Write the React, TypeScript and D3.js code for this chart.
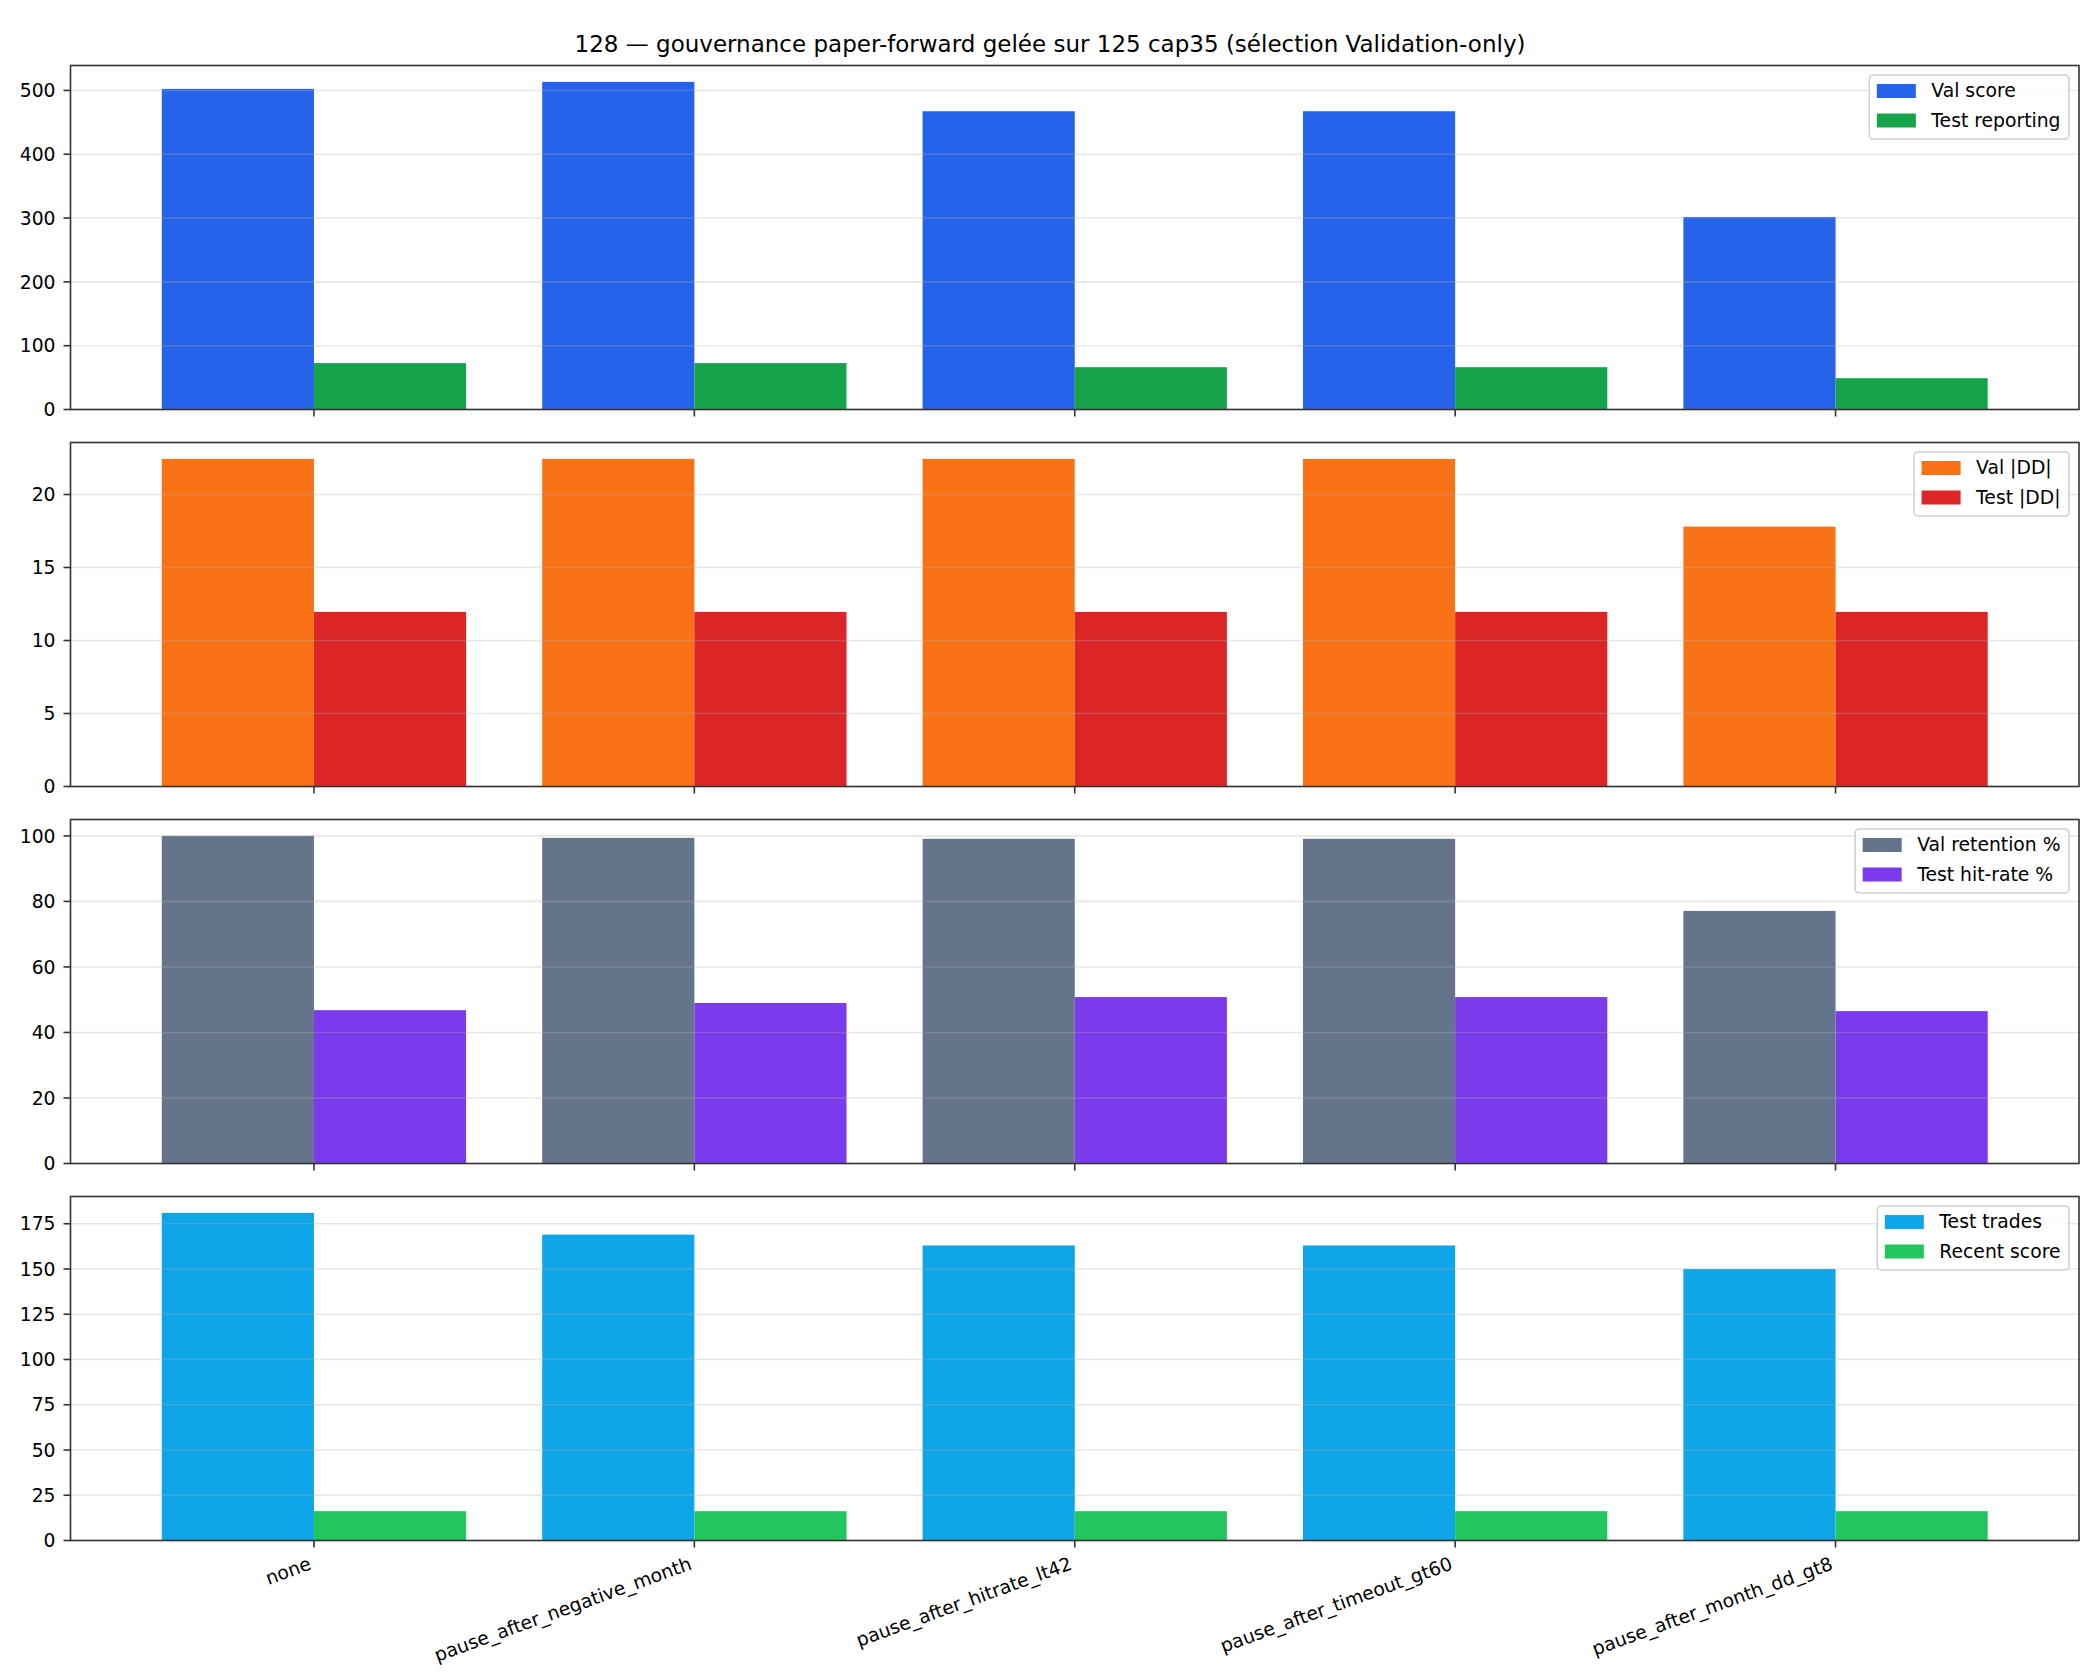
import * as d3 from 'd3';
import { useEffect, useRef } from 'react';

const title = '128 — gouvernance paper-forward gelée sur 125 cap35 (sélection Validation-only)';

const categories = [
  'none',
  'pause_after_negative_month',
  'pause_after_hitrate_lt42',
  'pause_after_timeout_gt60',
  'pause_after_month_dd_gt8',
];

const valScore = [502.4, 513.4, 467.4, 467.4, 301.6];
const testReporting = [72.7, 72.7, 66.3, 66.3, 49.1];
const valDD = [22.44, 22.44, 22.44, 22.44, 17.8];
const testDD = [11.96, 11.96, 11.96, 11.96, 11.96];
const valRetention = [100, 99.4, 99.1, 99.1, 77.1];
const testHitRate = [46.8, 49.0, 50.8, 50.8, 46.5];
const testTrades = [181, 169, 163, 163, 150];
const recentScore = [16.2, 16.2, 16.2, 16.2, 16.2];

// y tick spacing per panel
const tickSteps = [100, 5, 20, 25];

const panels = [
  { a: valScore, b: testReporting, names: ['Val score', 'Test reporting'], colors: ['#2563eb', '#16a34a'] },
  { a: valDD, b: testDD, names: ['Val |DD|', 'Test |DD|'], colors: ['#f97316', '#dc2626'] },
  { a: valRetention, b: testHitRate, names: ['Val retention %', 'Test hit-rate %'], colors: ['#64748b', '#7c3aed'] },
  { a: testTrades, b: recentScore, names: ['Test trades', 'Recent score'], colors: ['#0ea5e9', '#22c55e'] },
];

export default function App() {
  const ref = useRef<SVGSVGElement | null>(null);

  useEffect(() => {
    const svg = d3.select(ref.current);
    svg.selectAll('*').remove();
    const W = 2100;
    const H = 1680;
    const left = 70.5;
    const right = 2079;
    const top0 = 65.5;
    const step = 377;
    const ph = 344;
    const tickFs = 18.75;
    const legFs = 18.75;
    const spine = '#333';

    svg.append('rect').attr('width', W).attr('height', H).attr('fill', '#fff');
    svg.append('text')
      .attr('x', W / 2)
      .attr('y', 52)
      .attr('text-anchor', 'middle')
      .attr('font-size', 23)
      .attr('fill', '#000')
      .text(title);

    const x = d3.scaleLinear().domain([-0.64, 4.64]).range([left, right]);
    const bw = x(0.4) - x(0);

    panels.forEach((p, pi) => {
      const top = top0 + pi * step;
      const bottom = top + ph;
      const ymax = d3.max([...p.a, ...p.b])! * 1.05;
      const y = d3.scaleLinear().domain([0, ymax]).range([bottom, top]);
      const g = svg.append('g');

      g.selectAll('rect.a')
        .data(p.a)
        .enter()
        .append('rect')
        .attr('x', (_d, i) => x(i - 0.4))
        .attr('y', (d) => y(d))
        .attr('width', bw)
        .attr('height', (d) => y(0) - y(d))
        .attr('fill', p.colors[0]);

      g.selectAll('rect.b')
        .data(p.b)
        .enter()
        .append('rect')
        .attr('x', (_d, i) => x(i))
        .attr('y', (d) => y(d))
        .attr('width', bw)
        .attr('height', (d) => y(0) - y(d))
        .attr('fill', p.colors[1]);

      const ticks = d3.range(0, ymax + 1e-9, tickSteps[pi]);
      g.selectAll('line.grid')
        .data(ticks)
        .enter()
        .append('line')
        .attr('x1', left)
        .attr('x2', right)
        .attr('y1', (t) => y(t))
        .attr('y2', (t) => y(t))
        .attr('stroke', '#b0b0b0')
        .attr('stroke-opacity', 0.3)
        .attr('stroke-width', 1.6);

      g.selectAll('line.ytick')
        .data(ticks)
        .enter()
        .append('line')
        .attr('x1', left - 7)
        .attr('x2', left)
        .attr('y1', (t) => y(t))
        .attr('y2', (t) => y(t))
        .attr('stroke', spine)
        .attr('stroke-width', 1.6);

      g.selectAll('text.ytick')
        .data(ticks)
        .enter()
        .append('text')
        .attr('x', left - 15)
        .attr('y', (t) => y(t))
        .attr('dy', '0.36em')
        .attr('text-anchor', 'end')
        .attr('font-size', tickFs)
        .attr('fill', '#000')
        .text((t) => d3.format('d')(t));

      g.selectAll('line.xtick')
        .data(categories)
        .enter()
        .append('line')
        .attr('x1', (_d, i) => x(i))
        .attr('x2', (_d, i) => x(i))
        .attr('y1', bottom)
        .attr('y2', bottom + 7)
        .attr('stroke', spine)
        .attr('stroke-width', 1.6);

      g.append('rect')
        .attr('x', left)
        .attr('y', top)
        .attr('width', right - left)
        .attr('height', ph)
        .attr('fill', 'none')
        .attr('stroke', spine)
        .attr('stroke-width', 1.6);

      // legend, upper right
      const lg = g.append('g');
      const frame = lg.append('rect');
      const texts = p.names.map((n, k) =>
        lg.append('text')
          .attr('font-size', legFs)
          .attr('fill', '#000')
          .attr('y', top + 9.5 + 16 + k * 29.5 + 6)
          .text(n)
      );
      const tw = d3.max(texts, (t) => (t.node() as SVGTextElement).getComputedTextLength())!;
      const fw = 7.5 + 39 + 15.5 + tw + 8.5;
      const fx = right - 10 - fw;
      const fy = top + 9.5;
      frame
        .attr('x', fx)
        .attr('y', fy)
        .attr('width', fw)
        .attr('height', 64)
        .attr('rx', 4)
        .attr('fill', '#fff')
        .attr('fill-opacity', 0.8)
        .attr('stroke', '#d0d0d0')
        .attr('stroke-width', 1.6);
      p.names.forEach((_n, k) => {
        lg.append('rect')
          .attr('x', fx + 7.5)
          .attr('y', fy + 16 + k * 29.5 - 7)
          .attr('width', 39)
          .attr('height', 14)
          .attr('fill', p.colors[k]);
      });
      texts.forEach((t) => t.attr('x', fx + 7.5 + 39 + 15.5));
    });

    const lastBottom = top0 + (panels.length - 1) * step + ph;
    const a = 0.76 * tickFs;
    const dsc = 0.24 * tickFs;
    const rad = (20 * Math.PI) / 180;
    svg.append('g')
      .selectAll('text')
      .data(categories)
      .enter()
      .append('text')
      .attr('transform', (_d, i) => {
        const ax = x(i) - dsc * Math.sin(rad);
        const ay = lastBottom + 15 + a * Math.cos(rad);
        return `translate(${ax},${ay}) rotate(-20)`;
      })
      .attr('text-anchor', 'end')
      .attr('font-size', tickFs)
      .attr('fill', '#000')
      .text((d) => d);
  }, []);

  return (
    <svg
      ref={ref}
      width={2100}
      height={1680}
      style={{ position: 'absolute', left: 0, top: 0, fontFamily: 'DejaVu Sans, sans-serif' }}
    />
  );
}
